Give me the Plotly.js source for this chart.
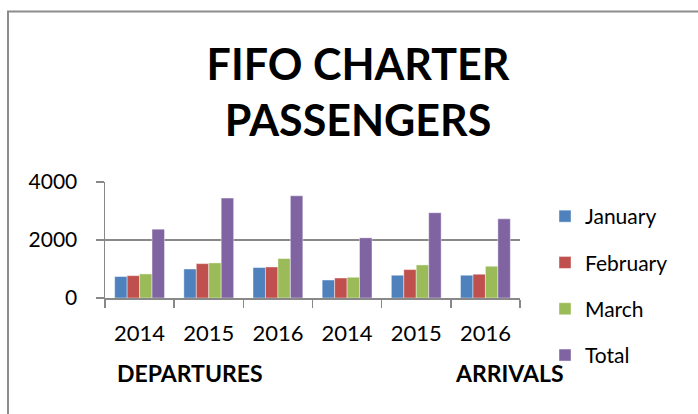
<!DOCTYPE html>
<html>
<head>
<meta charset="utf-8">
<script src="https://cdn.plot.ly/plotly-3.0.1.min.js"></script>
<style>html,body{margin:0;padding:0;background:#fff;}#chart{width:698px;height:414px;}</style>
</head>
<body>
<div id="chart"></div>
<script>
// Data
var categoryKeys = ["DEP-2014", "DEP-2015", "DEP-2016", "ARR-2014", "ARR-2015", "ARR-2016"];
var yearLabels = ["2014", "2015", "2016", "2014", "2015", "2016"];
var groupLabels = ["DEPARTURES", "ARRIVALS"];
var seriesNames = ["January", "February", "March", "Total"];
var january  = [740, 1000, 1050, 620, 785, 785];
var february = [770, 1185, 1070, 690, 980, 820];
var march    = [830, 1210, 1360, 715, 1140, 1095];
var total    = [2375, 3445, 3525, 2075, 2940, 2730];
var yTicks = [0, 2000, 4000];

var colors = ["#4F81BD", "#C0504D", "#9BBB59", "#8064A2"];
var seriesValues = [january, february, march, total];

var FONT = "Lato, 'Open Sans', sans-serif";

var traces = seriesNames.map(function (name, i) {
  return {
    type: "bar",
    name: name,
    x: categoryKeys,
    y: seriesValues[i],
    legendgroup: name,
    marker: { color: colors[i], line: { color: "rgba(255,255,255,0.7)", width: 0.6 } }
  };
});

// plot area: x 105..520, y 182..298
var L = 105, R = 698 - 520, T = 182, B = 414 - 298;
var pw = 698 - L - R, ph = 414 - T - B;
function px(x) { return (x - L) / pw; }
function py(y) { return (414 - B - y) / ph; }

var layout = {
  width: 698,
  height: 414,
  margin: { l: L, r: R, t: T, b: B, pad: 0 },
  paper_bgcolor: "#ffffff",
  plot_bgcolor: "#ffffff",
  font: { family: FONT, color: "#000000", size: 21 },
  title: {
    text: "FIFO CHARTER<br>PASSENGERS",
    font: { family: FONT, size: 43, color: "#000000", weight: "bold" },
    xref: "paper", x: px(358), xanchor: "center",
    yref: "container", y: 1 - 80 / 414, yanchor: "top"
  },
  barmode: "group",
  bargap: 0.28,
  bargroupgap: 0,
  showlegend: true,
  legend: {
    x: px(545), xanchor: "left",
    y: py(196), yanchor: "top",
    font: { family: FONT, size: 21, color: "#000000" },
    traceorder: "grouped",
    tracegroupgap: 16,
    maxheight: 400,
    bgcolor: "rgba(0,0,0,0)"
  },
  xaxis: {
    type: "category",
    tickmode: "array",
    tickvals: categoryKeys,
    ticktext: yearLabels,
    tickson: "boundaries",
    ticks: "outside",
    ticklen: 8,
    tickcolor: "#888888",
    tickwidth: 1.5,
    showline: true,
    linecolor: "#888888",
    linewidth: 1.5,
    showgrid: false,
    ticklabelstandoff: 15,
    tickfont: { family: FONT, size: 22, color: "#000000" },
    fixedrange: true
  },
  yaxis: {
    range: [0, 4000],
    tickmode: "array",
    tickvals: yTicks,
    ticktext: yTicks.map(String),
    ticks: "outside",
    ticklen: 8,
    tickcolor: "#888888",
    tickwidth: 1.5,
    showline: true,
    linecolor: "#888888",
    linewidth: 1.5,
    showgrid: true,
    gridcolor: "#888888",
    gridwidth: 1.5,
    zeroline: false,
    ticklabelstandoff: 14,
    tickfont: { family: FONT, size: 21, color: "#000000" },
    fixedrange: true
  },
  annotations: [
    {
      text: groupLabels[0], xref: "paper", yref: "paper",
      x: px(115), xanchor: "left", y: py(373), yanchor: "middle",
      showarrow: false, font: { family: FONT, size: 23, color: "#000000", weight: "bold" }
    },
    {
      text: groupLabels[1], xref: "paper", yref: "paper",
      x: px(453), xanchor: "left", y: py(373), yanchor: "middle",
      showarrow: false, font: { family: FONT, size: 23, color: "#000000", weight: "bold" }
    }
  ],
  shapes: [
    {
      type: "rect", xref: "paper", yref: "paper",
      x0: px(8), x1: px(720), y0: py(11.5), y1: py(430),
      line: { color: "#8c8c8c", width: 2 }, fillcolor: "rgba(0,0,0,0)", layer: "below"
    }
  ]
};

Plotly.newPlot("chart", traces, layout, { displayModeBar: false, staticPlot: true });
</script>
</body>
</html>
